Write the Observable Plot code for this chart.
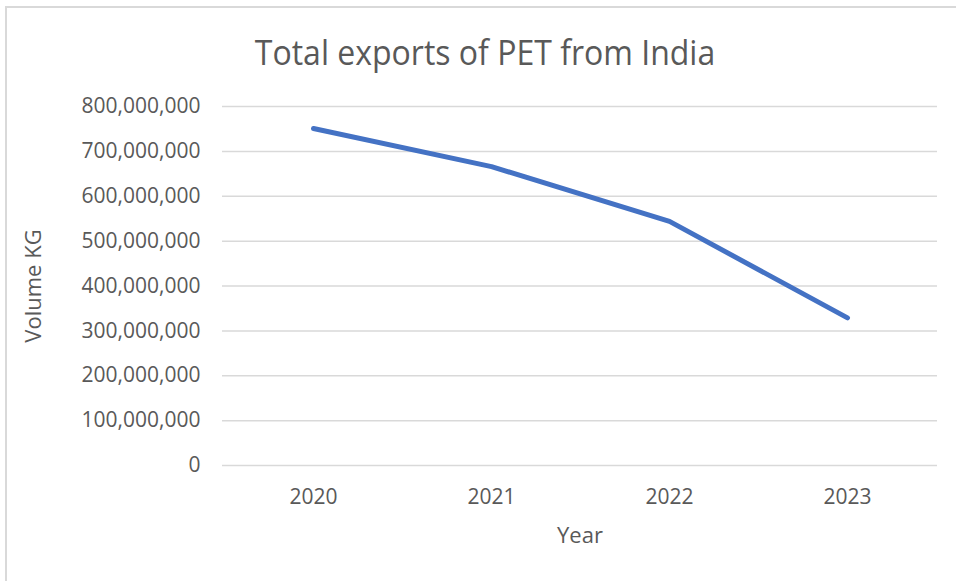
<!DOCTYPE html>
<html>
<head>
<meta charset="utf-8">
<script src="https://cdn.jsdelivr.net/npm/d3@7"></script>
<script src="https://cdn.jsdelivr.net/npm/@observablehq/plot@0.6"></script>
<style>
  html, body { margin: 0; padding: 0; background: #fff; overflow: hidden; }
  #wrap { position: relative; width: 956px; height: 581px; font-family: "Open Sans", sans-serif; }
  #frame { position: absolute; left: 5px; top: 6px; width: 970px; height: 600px; border: 2px solid #d9d9d9; box-sizing: border-box; }
  #title { position: absolute; left: 0; width: 970px; top: 30px; text-align: center; font-size: 32px; color: #595959; transform: scaleY(1.08); }
  #chart { position: absolute; left: 0; top: 0; }
</style>
</head>
<body>
<div id="wrap">
  <div id="frame"></div>
  <div id="chart"></div>
  <div id="title">Total exports of PET from India</div>
</div>
<script>
const years = ["2020", "2021", "2022", "2023"];
const volumes = [751000000, 666000000, 544000000, 329000000];
const yTicks = [0, 100000000, 200000000, 300000000, 400000000, 500000000, 600000000, 700000000, 800000000];

const data = years.map((y, i) => ({year: y, volume: volumes[i]}));
const grey = "#595959";

const chart = Plot.plot({
  width: 956,
  height: 581,
  marginLeft: 222,
  marginRight: 19,
  marginTop: 106,
  marginBottom: 116,
  style: {fontFamily: "Open Sans, sans-serif", fontSize: "21px", color: grey, background: "transparent"},
  x: {type: "point", domain: years, padding: 0.5, label: null},
  y: {domain: [0, 800000000], label: null},
  marks: [
    Plot.ruleY(yTicks, {stroke: "#d9d9d9", strokeWidth: 1.5}),
    Plot.axisY(yTicks, {tickSize: 0, tickPadding: 22, tickFormat: d3.format(","), fill: grey, fontSize: 21, label: null}),
    Plot.axisX(years, {tickSize: 0, tickPadding: 24, fill: grey, fontSize: 21, label: null}),
    Plot.text(["Volume KG"], {frameAnchor: "left", textAnchor: "middle", dx: -189, rotate: -90, fill: grey, fontSize: 22}),
    Plot.text(["Year"], {frameAnchor: "bottom", dy: 77, fill: grey, fontSize: 22}),
    Plot.line(data, {x: "year", y: "volume", stroke: "#4472C4", strokeWidth: 5, strokeLinecap: "round", strokeLinejoin: "round"})
  ]
});
document.getElementById("chart").appendChild(chart);
</script>
</body>
</html>
